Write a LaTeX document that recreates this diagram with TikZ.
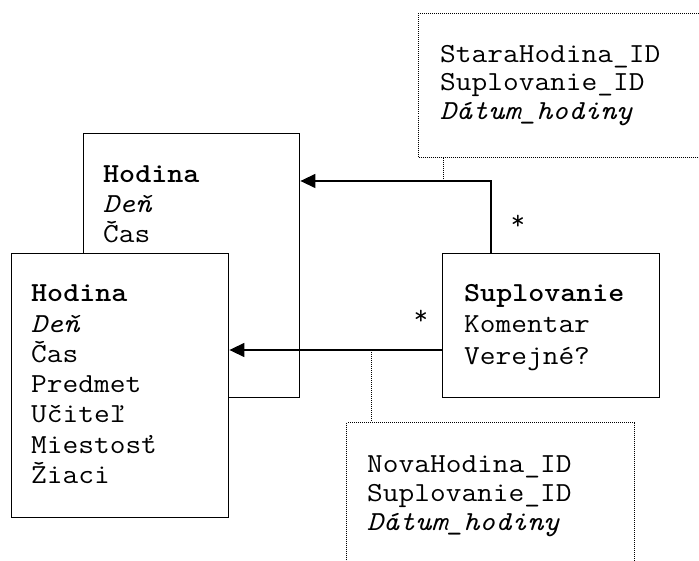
\documentclass[tikz,border=0pt]{standalone}
\usepackage{graphicx}
\usetikzlibrary{arrows.meta}
% typewriter lettering, widened to a 16pt character pitch
\newcommand{\tw}[1]{\scalebox{1.11}[1]{#1}}
\begin{document}
\begin{tikzpicture}[x=1pt,y=-1pt,
  classbox/.style={draw=black,fill=white,line width=1.4pt,rectangle,inner sep=0pt,anchor=north west},
  notebox/.style={draw=black,line width=1pt,densely dotted,rectangle,inner sep=0pt,anchor=north west},
  txt/.style={font=\ttfamily\fontsize{27.5}{30}\selectfont,anchor=base west,inner sep=0pt},
  mult/.style={font=\ttfamily\fontsize{27.5}{30}\selectfont,inner sep=0pt},
  assoc/.style={line width=1.4pt,-{Triangle[length=15pt,width=14pt]}},
  link/.style={line width=1pt,densely dotted}]
\useasboundingbox (0,0) rectangle (699,561);
\clip (0,0) rectangle (699,561);

% association class notes
\node[notebox,minimum width=320,minimum height=144] (oldnote) at (418,13) {};
\node[txt] (o1) at (440,63) {\tw{StaraHodina\_ID}};
\node[txt] (o2) at (440,91) {\tw{Suplovanie\_ID}};
\node[txt] (o3) at (440,120) {\tw{\itshape Dátum\_hodiny}};

\node[notebox,minimum width=288,minimum height=180] (newnote) at (346,422) {};
\node[txt] (n1) at (367,472) {\tw{NovaHodina\_ID}};
\node[txt] (n2) at (367,501) {\tw{Suplovanie\_ID}};
\node[txt] (n3) at (367,530) {\tw{\itshape Dátum\_hodiny}};

% rear Hodina card: the lines above the front card, and the one whose
% last letter shows past the front card's right edge
\node[classbox,minimum width=216,minimum height=264] (hodold) at (83,133) {};
\node[txt] (b1) at (103,183) {\tw{\bfseries Hodina}};
\node[txt] (b2) at (103,213) {\tw{\itshape Deň}};
\node[txt] (b3) at (103,243) {\tw{Čas}};
\node[txt] (b6) at (103,333) {\tw{Miestosť}};

% front Hodina card
\node[classbox,minimum width=217,minimum height=264] (hodnew) at (11,253) {};
\foreach \t [count=\i] in {{\bfseries Hodina},{\itshape Deň},Čas,Predmet,Učiteľ,Miestosť,Žiaci}
  \node[txt] (f\i) at (31,{302+30.2*(\i-1)}) {\tw{\t}};

% Suplovanie class
\node[classbox,minimum width=217,minimum height=144] (sup) at (442,253) {};
\node[txt] (s1) at (464,302) {\tw{\bfseries Suplovanie}};
\node[txt] (s2) at (464,333) {\tw{Komentar}};
\node[txt] (s3) at (464,364) {\tw{Verejné?}};

% associations
\coordinate (upbend) at (491,181);
\coordinate (lowrow) at (0,350);
\draw[assoc] (sup.north -| upbend) -- (upbend) -- (upbend -| hodold.east);
\draw[assoc] (sup.west |- lowrow) -- (hodnew.east |- lowrow);

% links to the association classes
\coordinate (upjoin) at (443,181);
\coordinate (lowjoin) at (371,350);
\draw[link] (upjoin |- oldnote.south) -- (upjoin);
\draw[link] (lowjoin) -- (lowjoin |- newnote.north);

% multiplicities
\node[mult] (m1) at (518,222) {*};
\node[mult] (m2) at (421,317) {*};
\end{tikzpicture}
\end{document}
